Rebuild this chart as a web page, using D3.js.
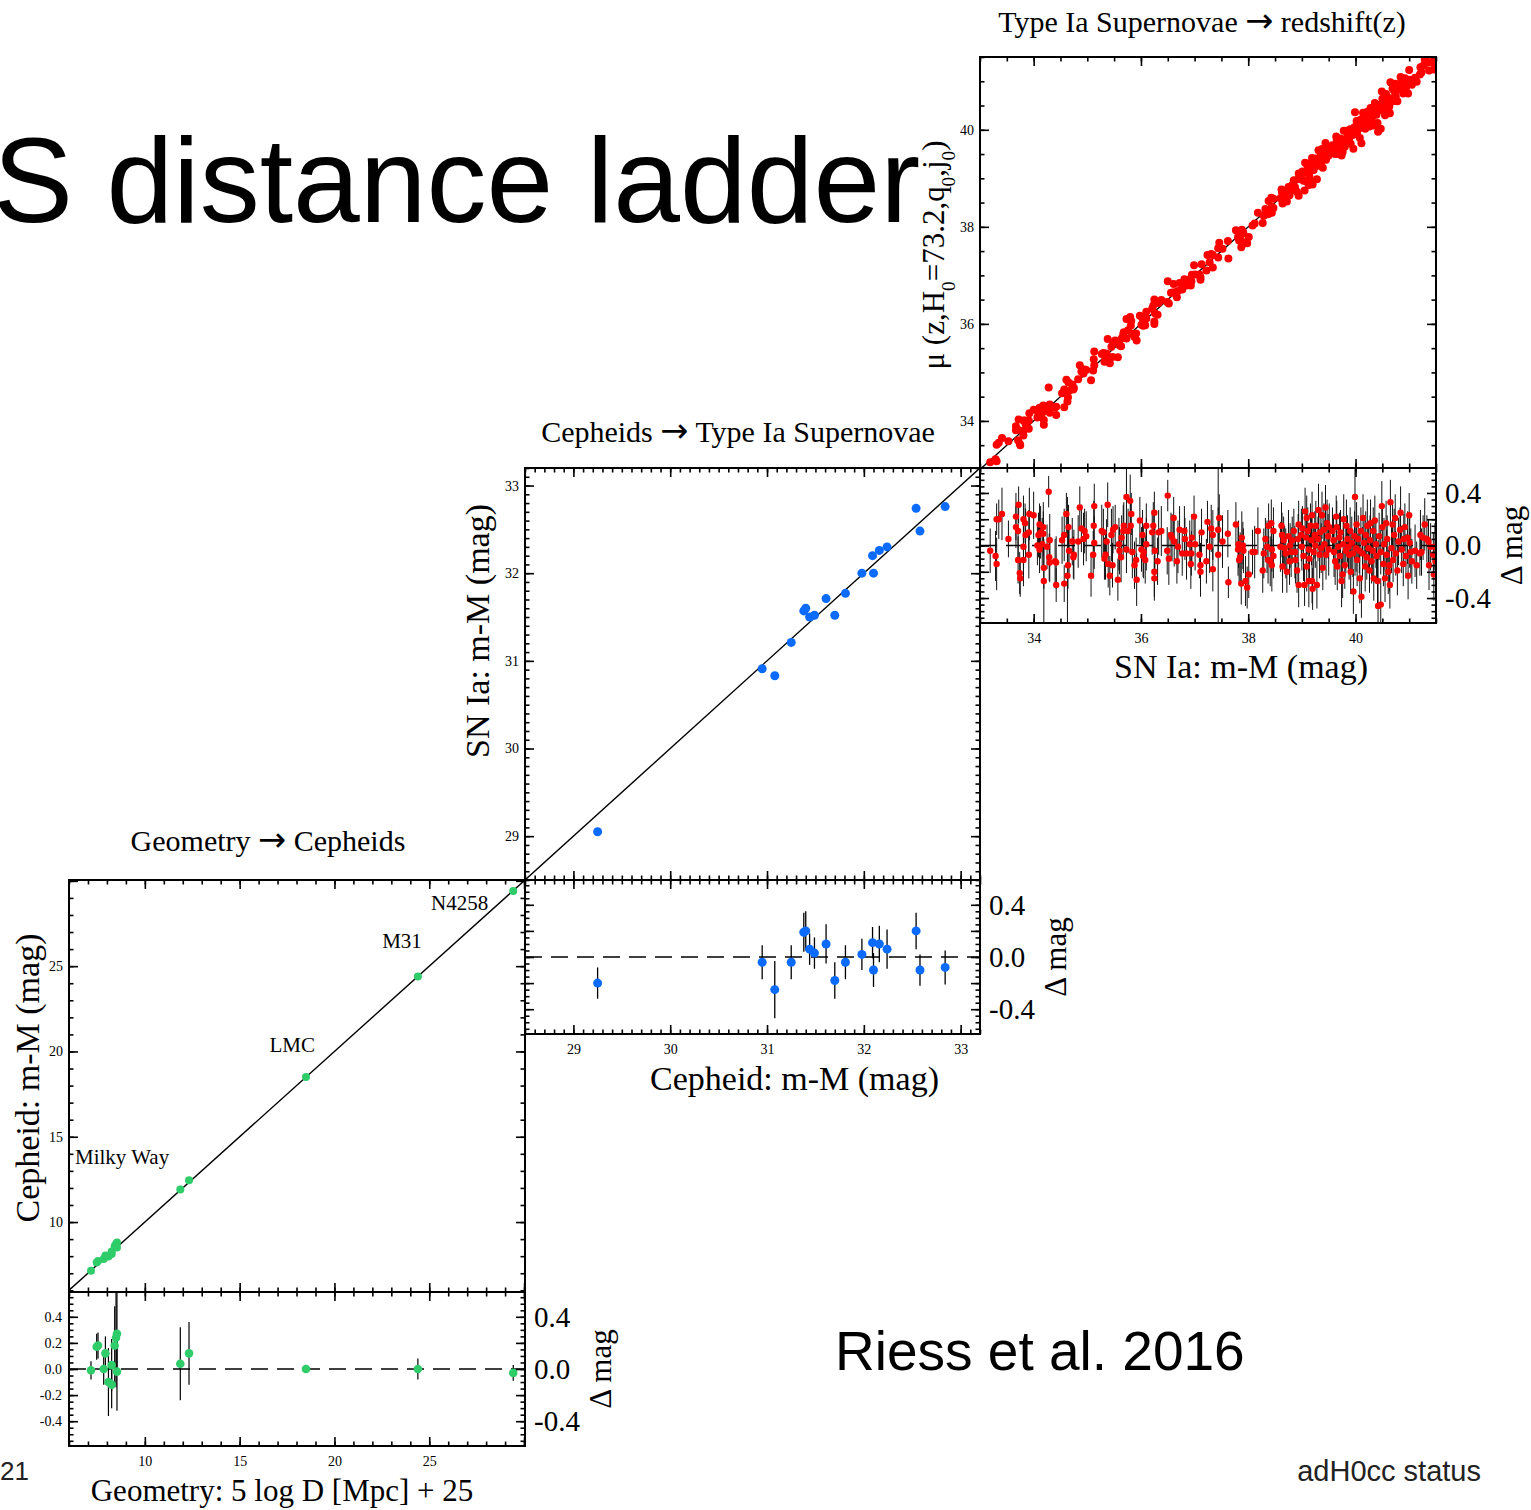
<!DOCTYPE html>
<html><head><meta charset="utf-8">
<script src="https://cdn.jsdelivr.net/npm/d3@7"></script>
<style>body{margin:0;background:#fff;overflow:hidden}</style>
</head><body>
<script>
// ================= DATA =================
// Panel 1: Geometry -> Cepheids  (x = 5 log D + 25, delta = Cepheid - geometry)
const geoGalaxies = ["MW","MW","MW","MW","MW","MW","MW","MW","MW","MW","MW","MW","MW","MW","LMC","M31","N4258"];
const geoX     = [7.16, 7.46, 7.53, 7.83, 7.92, 8.08, 8.25, 8.25, 8.41, 8.48, 8.53, 8.53, 11.87, 12.33, 18.50, 24.40, 29.43];
const geoDelta = [-0.01, 0.17, 0.18, 0.00, 0.12, -0.10, 0.03, -0.12, 0.18, 0.24, 0.27, -0.02, 0.04, 0.12, 0.00, 0.00, -0.03];
const geoErr   = [0.07, 0.10, 0.10, 0.12, 0.13, 0.26, 0.20, 0.18, 0.30, 0.38, 0.32, 0.30, 0.28, 0.24, 0.02, 0.08, 0.06];
const geoLabels = ["Milky Way", "LMC", "M31", "N4258"];

// Panel 2: Cepheids -> SN Ia (x = Cepheid m-M, delta = SN - Cepheid)
const cephX     = [29.25, 30.95, 31.08, 31.25, 31.38, 31.40, 31.44, 31.49, 31.61, 31.70, 31.81, 31.98, 32.09, 32.10, 32.16, 32.24, 32.54, 32.58, 32.84];
const cephDelta = [-0.20, -0.04, -0.25, -0.04, 0.19, 0.20, 0.06, 0.03, 0.10, -0.18, -0.04, 0.02, 0.11, -0.10, 0.10, 0.06, 0.20, -0.10, -0.08];
const cephErr   = [0.12, 0.13, 0.22, 0.13, 0.15, 0.15, 0.12, 0.12, 0.15, 0.14, 0.13, 0.12, 0.12, 0.13, 0.14, 0.15, 0.14, 0.12, 0.13];

// Panel 3: SN Ia -> redshift  rows: [SN m-M, delta = mu(z) - (m-M), error]
const snIa = [
[33.19,-0.04,0.17],[33.29,-0.08,0.19],[33.31,-0.14,0.2],[33.31,0.20,0.12],[33.35,0.20,0.15],[33.41,0.24,0.2],[33.53,0.05,0.14],[33.67,0.22,0.18],[33.67,0.14,0.16],[33.72,0.31,0.14],
[33.71,0.11,0.2],[33.71,-0.11,0.18],[33.74,-0.21,0.16],[33.75,-0.25,0.14],[33.81,-0.01,0.22],[33.81,-0.11,0.2],[33.81,0.20,0.18],[33.84,0.17,0.15],[33.85,0.08,0.2],[33.91,0.10,0.17],
[33.92,0.24,0.2],[33.91,-0.07,0.18],[34.00,0.23,0.18],[34.11,0.16,0.16],[34.13,0.10,0.2],[34.09,0.08,0.17],[34.07,0.00,0.15],[34.18,0.14,0.19],[34.18,0.09,0.17],[34.16,0.01,0.2],
[34.11,-0.03,0.18],[34.19,-0.17,0.16],[34.19,-0.27,0.32],[34.28,0.41,0.12],[34.30,0.04,0.2],[34.25,-0.01,0.17],[34.29,-0.09,0.18],[34.30,-0.13,0.15],[34.40,-0.12,0.17],[34.42,-0.13,0.2],
[34.42,-0.30,0.13],[34.53,0.04,0.18],[34.57,0.08,0.2],[34.61,0.24,0.16],[34.57,-0.29,0.14],[34.63,-0.23,0.6],[34.64,-0.15,0.18],[34.65,0.14,0.17],[34.66,-0.04,0.2],[34.72,0.03,0.18],
[34.74,-0.09,0.16],[34.75,-0.07,0.19],[34.83,0.03,0.2],[34.86,0.29,0.16],[34.89,0.13,0.18],[34.93,0.05,0.2],[34.95,0.11,0.17],[34.98,0.07,0.19],[35.07,-0.23,0.16],[35.11,-0.07,0.18],
[35.13,0.30,0.17],[35.12,0.15,0.19],[35.13,0.02,0.2],
[35.38,0.31,0.17],[35.27,0.11,0.2],[35.30,0.10,0.18],[35.36,0.03,0.17],[35.34,-0.07,0.19],[35.32,-0.10,0.16],[35.39,-0.14,0.18],[35.47,-0.15,0.17],[35.42,-0.23,0.15],[35.45,0.08,0.2],
[35.48,0.12,0.18],[35.52,0.14,0.17],[35.57,-0.26,0.16],[35.59,0.01,0.2],[35.60,-0.04,0.18],[35.63,-0.09,0.19],[35.64,0.06,0.17],[35.67,0.11,0.2],[35.68,0.15,0.18],[35.73,0.37,0.45],
[35.80,0.34,0.2],[35.73,-0.03,0.18],[35.76,0.11,0.17],[35.81,0.15,0.19],[35.82,0.24,0.16],[35.84,-0.05,0.2],[35.88,-0.15,0.18],[35.91,-0.11,0.17],[35.92,-0.26,0.2],[35.98,0.19,0.18],
[36.01,-0.03,0.17],[36.03,0.08,0.19],[36.04,-0.08,0.16],[36.05,-0.05,0.2],[36.08,-0.11,0.18],[36.10,0.15,0.17],[36.10,0.01,0.2],[36.23,0.15,0.18],[36.21,0.10,0.17],[36.25,0.25,0.16],
[36.25,-0.20,0.19],[36.25,-0.25,0.17],[36.26,-0.04,0.2],[36.31,-0.12,0.18],[36.33,0.10,0.17],[36.38,0.11,0.19],[36.50,0.38,0.12],[36.49,-0.04,0.18],[36.52,-0.10,0.2],[36.56,0.08,0.17],
[36.58,0.06,0.18],[36.61,0.21,0.16],[36.62,0.03,0.19],[36.67,-0.12,0.17],[36.69,-0.01,0.2],[36.72,0.12,0.18],[36.77,-0.06,0.17],[36.81,0.11,0.19],[36.82,0.05,0.16],[36.85,-0.06,0.2],
[36.91,0.01,0.18],[36.94,-0.06,0.17],[36.93,-0.14,0.19],[36.95,0.06,0.18],[36.99,0.22,0.16],[37.01,0.01,0.2],[37.09,-0.07,0.18],[37.11,-0.15,0.17],[37.11,-0.20,0.19],[37.13,0.10,0.18],
[37.22,-0.12,0.17],[37.24,0.18,0.16],[37.28,-0.01,0.2],[37.31,0.13,0.18],[37.34,-0.18,0.17],[37.34,0.08,0.19],
[37.44,0.12,0.17],[37.44,-0.07,1.0],[37.46,0.21,0.18],[37.52,0.03,0.2],[37.62,0.09,0.18],[37.63,-0.28,0.12],[37.77,0.16,0.17],[37.81,-0.03,0.2],[37.82,0.01,0.18],[37.83,-0.11,0.17],
[37.85,-0.09,0.19],[37.87,-0.29,0.16],[37.88,0.06,0.2],[37.90,0.00,0.18],[37.91,-0.04,0.17],[37.95,-0.27,0.19],[37.98,-0.32,0.16],[38.01,-0.22,0.18],[38.08,-0.05,0.17],[38.12,-0.05,0.2],
[38.18,0.11,0.18],[38.27,-0.19,0.17],[38.29,-0.06,0.19],[38.32,0.05,0.16],[38.35,-0.01,0.2],[38.37,-0.11,0.18],[38.38,0.15,0.17],[38.41,-0.12,0.19],[38.43,0.17,0.18],[38.44,-0.03,0.17],
[38.44,-0.15,0.2],[38.47,0.11,0.18],[38.47,-0.08,0.17],[38.60,-0.01,0.19],[38.62,0.15,0.18],[38.63,0.08,0.17],[38.64,-0.16,0.2],[38.66,0.04,0.18],[38.68,-0.02,0.17],[38.70,-0.06,0.19],
[38.72,-0.20,0.16],[38.75,0.07,0.2],[38.77,-0.12,0.18],[38.78,0.00,0.17],[38.80,-0.05,0.19],[38.82,0.04,0.18],[38.85,0.11,0.17],[38.87,-0.05,0.2],[38.88,-0.11,0.18],[38.91,-0.19,0.17],
[38.93,0.05,0.19],[38.94,0.16,0.18],[38.94,-0.30,0.17],[38.99,0.08,0.2],[39.00,-0.01,0.18],[39.01,0.13,0.17],[39.03,-0.08,0.19],[39.05,-0.30,0.16],[39.06,0.26,0.18],[39.08,0.06,0.2],
[39.09,0.21,0.17],[39.09,-0.16,0.19],[39.11,0.11,0.18],[39.13,-0.03,0.17],[39.13,-0.27,0.2],[39.14,-0.10,0.18],[39.16,0.15,0.17],[39.18,0.04,0.19],[39.19,0.23,0.18],[39.19,-0.27,0.17],
[39.20,-0.33,0.16],[39.22,-0.05,0.2],[39.24,0.08,0.18],[39.25,0.00,0.17],[39.26,0.15,0.19],[39.28,-0.30,0.18],[39.30,0.05,0.17],[39.31,0.27,0.2],[39.33,-0.07,0.18],[39.34,0.10,0.17],
[39.36,-0.02,0.19],[39.375,0.23,0.18],[39.39,-0.17,0.17],[39.41,0.12,0.2],[39.42,0.01,0.18],[39.44,0.29,0.17],[39.45,-0.07,0.19],[39.47,0.17,0.18],[39.49,0.07,0.17],[39.50,-0.03,0.2],
[39.51,0.14,0.18],
[39.57,0.11,0.18],[39.59,0.04,0.17],[39.60,-0.05,0.19],[39.62,-0.12,0.18],[39.64,0.22,0.16],[39.65,0.14,0.2],[39.66,-0.16,0.18],[39.68,-0.01,0.17],[39.70,0.06,0.19],[39.71,-0.08,0.18],
[39.72,0.10,0.17],[39.74,-0.27,0.2],[39.76,-0.22,0.18],[39.77,0.01,0.17],[39.78,0.20,0.19],[39.80,-0.15,0.18],[39.82,-0.04,0.17],[39.83,0.15,0.2],[39.85,0.05,0.18],[39.87,-0.01,0.17],
[39.88,-0.07,0.19],[39.90,0.11,0.18],[39.91,-0.20,0.17],[39.93,0.02,0.2],[39.95,-0.06,0.18],[39.96,-0.35,0.17],[39.98,0.07,0.19],[39.99,0.37,0.6],[40.01,-0.02,0.18],[40.02,0.16,0.17],
[40.03,-0.11,0.2],[40.05,0.05,0.18],[40.07,-0.04,0.17],[40.08,-0.25,0.19],[40.10,0.11,0.18],[40.11,-0.39,0.16],[40.13,-0.06,0.2],[40.14,0.21,0.18],[40.16,0.02,0.17],[40.18,-0.16,0.19],
[40.19,0.08,0.18],[40.21,-0.09,0.17],[40.22,0.15,0.2],[40.24,-0.02,0.18],[40.26,-0.19,0.17],[40.27,0.04,0.19],[40.28,0.17,0.18],[40.30,-0.12,0.17],[40.32,-0.04,0.2],[40.33,0.11,0.18],
[40.34,-0.25,0.17],[40.36,0.19,0.19],[40.38,0.01,0.18],[40.39,-0.08,0.17],[40.41,-0.27,0.2],[40.42,-0.46,0.5],[40.44,0.07,0.18],[40.47,-0.45,0.2],[40.47,-0.05,0.17],[40.49,0.30,0.19],
[40.50,0.14,0.18],[40.52,-0.14,0.17],[40.53,0.01,0.2],[40.55,-0.25,0.18],[40.57,0.17,0.17],[40.58,-0.07,0.19],[40.59,0.05,0.18],[40.61,-0.20,0.17],[40.63,-0.15,0.2],[40.64,-0.30,0.18],
[40.65,0.33,0.17],[40.67,-0.02,0.19],[40.69,0.16,0.18],[40.70,-0.11,0.17],[40.72,0.08,0.2],[40.74,0.21,0.18],[40.75,-0.06,0.17],[40.78,-0.19,0.19],[40.80,0.03,0.18],[40.83,0.12,0.17],
[40.84,0.25,0.2],[40.86,-0.03,0.18],[40.89,-0.14,0.17],[40.90,0.05,0.19],[40.92,0.14,0.18],[40.94,-0.08,0.17],[40.97,0.06,0.2],[40.98,-0.23,0.18],[41.00,0.23,0.17],[41.01,0.02,0.19],
[41.03,-0.05,0.18],[41.05,-0.12,0.17],[41.11,-0.04,0.2],[41.14,-0.15,0.18],[41.20,-0.06,0.17],[41.21,0.08,0.19],[41.23,-0.05,0.18],[41.26,0.06,0.17],[41.29,0.16,0.2],[41.33,0.05,0.18],
[41.36,0.03,0.17],[41.37,-0.15,0.19],[41.40,-0.01,0.18],[41.45,-0.07,0.17],[41.46,-0.22,0.2],[41.48,-0.01,0.18],[41.49,-0.12,0.17]
];

// Tick labels
const p1XTickLabels = [10, 15, 20, 25];
const p1YTickLabels = [10, 15, 20, 25];
const p2XTickLabels = [29, 30, 31, 32, 33];
const p2YTickLabels = [29, 30, 31, 32, 33];
const p3XTickLabels = [34, 36, 38, 40];
const p3YTickLabels = [34, 36, 38, 40];
const resLeftTickLabels = [-0.4, -0.2, 0, 0.2, 0.4];
const resRightTickLabels = [-0.4, 0, 0.4];

// ================= DRAWING =================
const SERIF = "'Liberation Serif','Times New Roman',Times,serif";
const ARROWFONT = "'DejaVu Sans',sans-serif";
const SANS = "'Liberation Sans',Arial,Helvetica,sans-serif";
const W = 1531, H = 1510;
const svg = d3.select("body").append("svg").attr("width", W).attr("height", H).style("display","block");

// slide text (behind the chart)
svg.append("text").attr("x", -7).attr("y", 222).attr("font-family", SANS).attr("font-size", 120)
  .attr("fill","#000").text("S distance ladder");
svg.append("text").attr("x", 835).attr("y", 1370).attr("font-family", SANS).attr("font-size", 55)
  .attr("fill","#000").text("Riess et al. 2016");
svg.append("text").attr("x", 0).attr("y", 1480).attr("font-family", SANS).attr("font-size", 26)
  .attr("fill","#222").text("21");
svg.append("text").attr("x", 1481).attr("y", 1481).attr("text-anchor","end").attr("font-family", SANS)
  .attr("font-size", 29).attr("fill","#222").text("adH0cc status");

const defs = svg.append("defs");
let clipId = 0;
function clipRect(x, y, w, h){
  const id = "clip" + (clipId++);
  defs.append("clipPath").attr("id", id).append("rect").attr("x", x).attr("y", y).attr("width", w).attr("height", h);
  return "url(#" + id + ")";
}

function tickVals(dom, step){
  const a = Math.ceil(dom[0] / step - 1e-9), b = Math.floor(dom[1] / step + 1e-9);
  return d3.range(a, b + 1).map(i => +(i * step).toFixed(6));
}
function has(arr, v){ return arr.some(l => Math.abs(l - v) < 1e-6); }
const fmtInt = v => String(Math.round(v));
const fmt1 = v => (Math.abs(v) < 1e-9 ? 0 : v).toFixed(1);

function drawTicks(g, orient, scale, pos, values, len, labelVals, fmt, fs, pad){
  const gen = {left: d3.axisLeft, right: d3.axisRight, top: d3.axisTop, bottom: d3.axisBottom}[orient](scale)
    .tickValues(values).tickSizeInner(-len).tickSizeOuter(0).tickPadding(pad || 0)
    .tickFormat(labelVals ? (v => has(labelVals, v) ? fmt(v) : "") : (() => ""));
  const tr = (orient === "left" || orient === "right") ? `translate(${pos},0)` : `translate(0,${pos})`;
  const a = g.append("g").attr("transform", tr).call(gen);
  a.select(".domain").remove();
  a.attr("font-family", SERIF).attr("font-size", fs || 13);
  a.selectAll("line").attr("stroke", "#000").attr("stroke-width", 1.6);
  a.selectAll("text").attr("fill", "#000");
  return a;
}

const MAJ = 9, MIN = 4.5;
const resDomain = [-0.59, 0.59];

function titleText(g, x, y, parts, fs){
  const t = g.append("text").attr("x", x).attr("y", y).attr("text-anchor", "middle")
    .attr("font-family", SERIF).attr("font-size", fs).attr("fill", "#000");
  t.append("tspan").text(parts[0] + " ");
  t.append("tspan").attr("font-family", ARROWFONT).attr("font-size", fs * 1.12).text("\u2192");
  t.append("tspan").text(" " + parts[1]);
}

function drawPanel(cfg){
  const g = svg.append("g");
  const x = d3.scaleLinear().domain(cfg.xDom).range([cfg.left, cfg.right]);
  const y = d3.scaleLinear().domain(cfg.yDom).range([cfg.mid, cfg.top]);
  const yr = d3.scaleLinear().domain(resDomain).range([cfg.bottom, cfg.mid]);
  const w = cfg.right - cfg.left;
  const mainClip = clipRect(cfg.left, cfg.top, w, cfg.mid - cfg.top);
  const resClip = clipRect(cfg.left, cfg.mid, w, cfg.bottom - cfg.mid);

  // ---- main panel ----
  const lo = Math.min(cfg.xDom[0], cfg.yDom[0]), hi = Math.max(cfg.xDom[1], cfg.yDom[1]);
  g.append("line").attr("clip-path", mainClip)
    .attr("x1", x(lo)).attr("y1", y(lo)).attr("x2", x(hi)).attr("y2", y(hi))
    .attr("stroke", "#000").attr("stroke-width", 1.4);
  g.append("g").attr("clip-path", mainClip).selectAll("circle").data(cfg.pts).join("circle")
    .attr("cx", d => x(d.x)).attr("cy", d => y(d.x + d.d)).attr("r", cfg.rMain).attr("fill", cfg.color);

  // ---- residual panel ----
  g.append("line").attr("x1", cfg.left).attr("x2", cfg.right).attr("y1", yr(0)).attr("y2", yr(0))
    .attr("stroke", "#000").attr("stroke-width", 1.5).attr("stroke-dasharray", "17,9");
  const rg = g.append("g").attr("clip-path", resClip);
  rg.selectAll("line.eb").data(cfg.pts).join("line").attr("class", "eb")
    .attr("x1", d => x(d.x)).attr("x2", d => x(d.x))
    .attr("y1", d => yr(d.d - d.e)).attr("y2", d => yr(d.d + d.e))
    .attr("stroke", cfg.ebColor).attr("stroke-width", cfg.ebWidth);
  rg.selectAll("circle").data(cfg.pts).join("circle")
    .attr("cx", d => x(d.x)).attr("cy", d => yr(d.d)).attr("r", cfg.rRes).attr("fill", cfg.color);

  // ---- boxes ----
  g.append("rect").attr("x", cfg.left).attr("y", cfg.top).attr("width", w).attr("height", cfg.mid - cfg.top)
    .attr("fill", "none").attr("stroke", "#000").attr("stroke-width", 2);
  g.append("rect").attr("x", cfg.left).attr("y", cfg.mid).attr("width", w).attr("height", cfg.bottom - cfg.mid)
    .attr("fill", "none").attr("stroke", "#000").attr("stroke-width", 2);

  // ---- ticks: main ----
  const xMaj = tickVals(cfg.xDom, cfg.xMaj), xMin = tickVals(cfg.xDom, cfg.xMin);
  const yMaj = tickVals(cfg.yDom, cfg.yMaj), yMin = tickVals(cfg.yDom, cfg.yMin);
  drawTicks(g, "left", y, cfg.left, yMaj, MAJ, cfg.yLabels, fmtInt, 14, 6);
  drawTicks(g, "left", y, cfg.left, yMin, MIN);
  drawTicks(g, "right", y, cfg.right, yMaj, MAJ);
  drawTicks(g, "right", y, cfg.right, yMin, MIN);
  drawTicks(g, "top", x, cfg.top, xMaj, MAJ);
  drawTicks(g, "top", x, cfg.top, xMin, MIN);
  drawTicks(g, "bottom", x, cfg.mid, xMaj, MAJ);
  drawTicks(g, "bottom", x, cfg.mid, xMin, MIN);

  // ---- ticks: residual ----
  const rMaj = tickVals(resDomain, 0.2), rMin = tickVals(resDomain, 0.05);
  drawTicks(g, "top", x, cfg.mid, xMaj, MAJ);
  drawTicks(g, "top", x, cfg.mid, xMin, MIN);
  drawTicks(g, "bottom", x, cfg.bottom, xMaj, MAJ, cfg.xLabels, fmtInt, 14, 10);
  drawTicks(g, "bottom", x, cfg.bottom, xMin, MIN);
  drawTicks(g, "left", yr, cfg.left, rMaj, MAJ, cfg.resLeft ? resLeftTickLabels : null, fmt1, 14, 7);
  drawTicks(g, "left", yr, cfg.left, rMin, MIN);
  drawTicks(g, "right", yr, cfg.right, rMaj, MAJ, resRightTickLabels, fmt1, 29, 9);
  drawTicks(g, "right", yr, cfg.right, rMin, MIN);

  // ---- texts ----
  titleText(g, cfg.titleX, cfg.titleY, cfg.title, 30);
  g.append("text").attr("x", (cfg.left + cfg.right) / 2 + cfg.xTitleDx).attr("y", cfg.bottom + cfg.xTitleDy).attr("text-anchor", "middle")
    .attr("font-family", SERIF).attr("font-size", cfg.xTitleSize).text(cfg.xTitle);
  const yt = g.append("text").attr("transform", `translate(${cfg.yTitleX},${cfg.yTitleY}) rotate(-90)`)
    .attr("text-anchor", "middle").attr("font-family", SERIF).attr("font-size", cfg.yTitleSize);
  cfg.yTitle.forEach(part => {
    const t = yt.append("tspan").text(part.t);
    if (part.sub) t.attr("font-size", cfg.yTitleSize * 0.62).attr("baseline-shift", "sub");
  });
  g.append("text").attr("transform", `translate(${cfg.right + 86},${yr(0)}) rotate(-90)`)
    .attr("text-anchor", "middle").attr("font-family", SERIF).attr("font-size", 31).text("\u0394 mag");
  return {x, y, yr, g};
}

// Panel 1
const p1 = drawPanel({
  left: 69, right: 525, top: 880, mid: 1292, bottom: 1446,
  xDom: [6, 30.05], yDom: [5.9, 30.05], xMaj: 5, xMin: 1, yMaj: 5, yMin: 1,
  xLabels: p1XTickLabels, yLabels: p1YTickLabels, resLeft: true,
  pts: geoX.map((v, i) => ({x: v, d: geoDelta[i], e: geoErr[i]})),
  color: "#2fcc6a", rMain: 4, rRes: 4.3, ebColor: "#000", ebWidth: 1.2,
  title: ["Geometry", "Cepheids"], titleX: 268, titleY: 851,
  xTitle: "Geometry: 5 log D [Mpc] + 25", xTitleDx: -15, xTitleDy: 55, xTitleSize: 31,
  yTitle: [{t: "Cepheid: m-M (mag)"}], yTitleX: 39, yTitleY: 1078, yTitleSize: 34
});
// galaxy annotations
const mwIdx = geoGalaxies.indexOf("MW");
const annot = [
  {t: geoLabels[0], i: mwIdx, dx: -16, dy: -107, anchor: "start"},
  {t: geoLabels[1], i: geoGalaxies.indexOf("LMC"), dx: 9, dy: -25, anchor: "end"},
  {t: geoLabels[2], i: geoGalaxies.indexOf("M31"), dx: 4, dy: -28, anchor: "end"},
  {t: geoLabels[3], i: geoGalaxies.indexOf("N4258"), dx: -25, dy: 19, anchor: "end"}
];
p1.g.selectAll("text.annot").data(annot).join("text").attr("class", "annot")
  .attr("x", d => p1.x(geoX[d.i]) + d.dx).attr("y", d => p1.y(geoX[d.i] + geoDelta[d.i]) + d.dy)
  .attr("text-anchor", d => d.anchor).attr("font-family", SERIF).attr("font-size", 21).text(d => d.t);

// Panel 2
drawPanel({
  left: 525, right: 980, top: 468, mid: 880, bottom: 1034,
  xDom: [28.5, 33.2], yDom: [28.5, 33.2], xMaj: 1, xMin: 0.1, yMaj: 1, yMin: 0.1,
  xLabels: p2XTickLabels, yLabels: p2YTickLabels, resLeft: false,
  pts: cephX.map((v, i) => ({x: v, d: cephDelta[i], e: cephErr[i]})),
  color: "#0b6bff", rMain: 4.5, rRes: 4.5, ebColor: "#000", ebWidth: 1.3,
  title: ["Cepheids", "Type Ia Supernovae"], titleX: 738, titleY: 442,
  xTitle: "Cepheid: m-M (mag)", xTitleDx: 42, xTitleDy: 56, xTitleSize: 34,
  yTitle: [{t: "SN Ia: m-M (mag)"}], yTitleX: 489, yTitleY: 631, yTitleSize: 34
});

// Panel 3
drawPanel({
  left: 980, right: 1436, top: 57, mid: 468, bottom: 623,
  xDom: [33, 41.5], yDom: [33.03, 41.5], xMaj: 2, xMin: 0.5, yMaj: 2, yMin: 0.5,
  xLabels: p3XTickLabels, yLabels: p3YTickLabels, resLeft: false,
  pts: snIa.map(r => ({x: r[0], d: r[1], e: r[2]})),
  color: "#ff0000", rMain: 4, rRes: 3.2, ebColor: "#111", ebWidth: 1,
  title: ["Type Ia Supernovae", "redshift(z)"], titleX: 1202, titleY: 32,
  xTitle: "SN Ia: m-M (mag)", xTitleDx: 33, xTitleDy: 55, xTitleSize: 34,
  yTitle: [{t: "\u03bc (z,H"}, {t: "0", sub: true}, {t: "=73.2,q"}, {t: "0", sub: true}, {t: ",j"}, {t: "0", sub: true}, {t: ")"}],
  yTitleX: 944, yTitleY: 255, yTitleSize: 31
});
</script>
</body></html>
